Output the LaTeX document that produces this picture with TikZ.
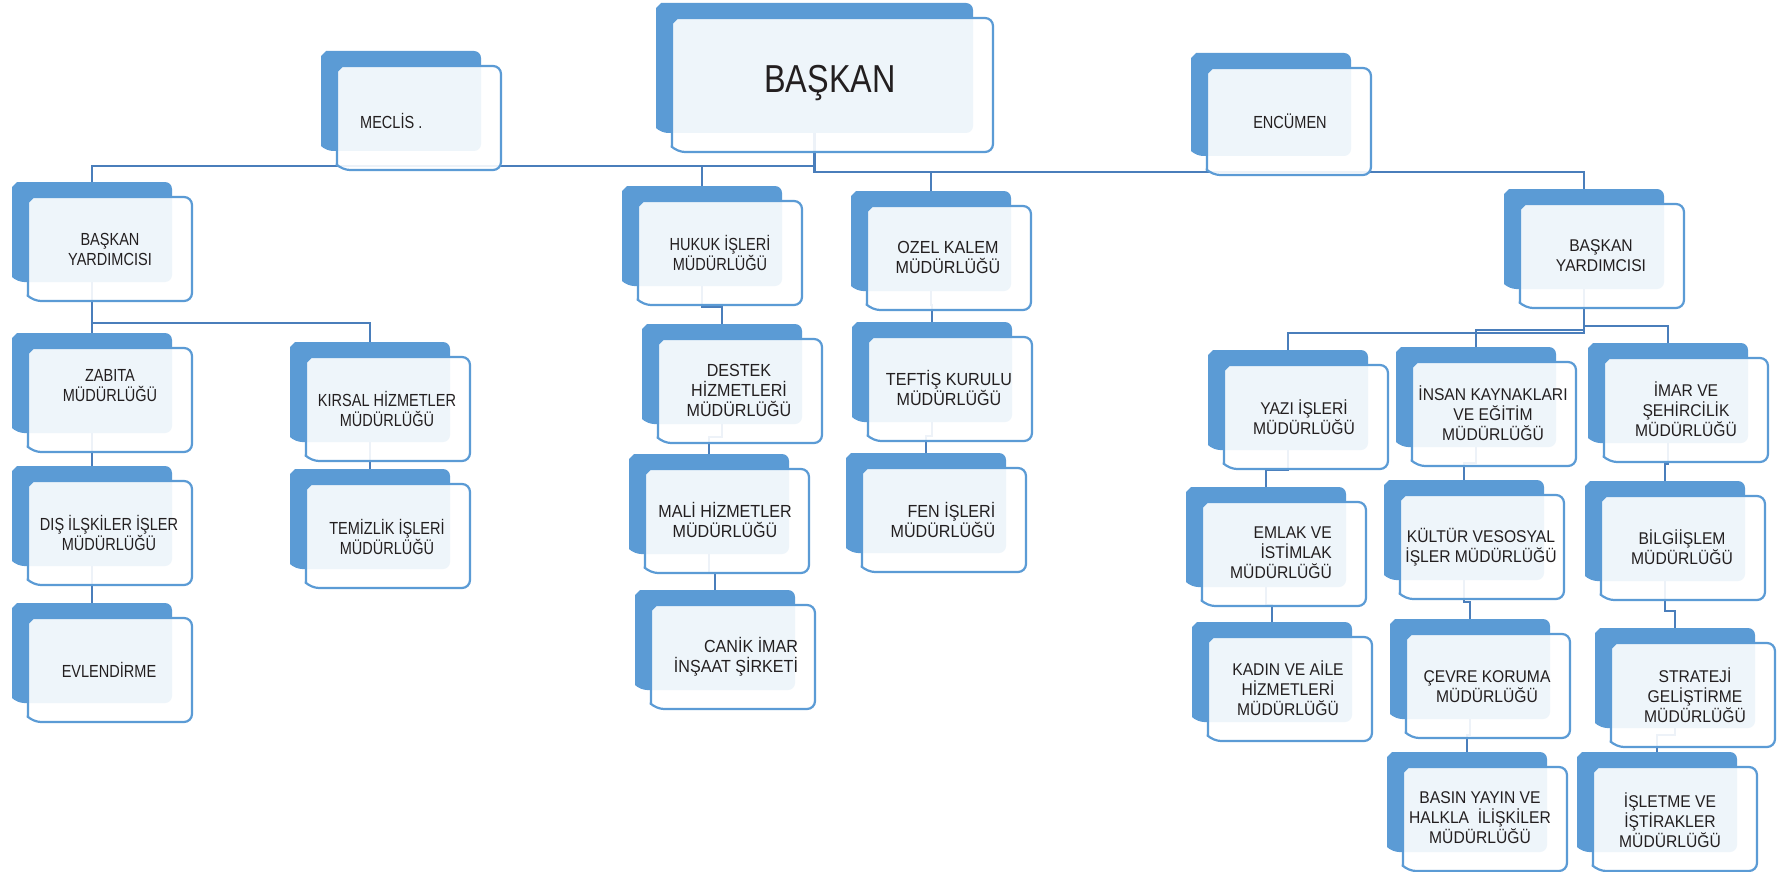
\documentclass[tikz,border=0pt]{standalone}
\usepackage{fontspec}
\setmainfont{Liberation Sans}[FakeStretch=0.83]
\newfontfamily\wfont{Liberation Sans}[FakeStretch=0.92]
\usetikzlibrary{calc}
\definecolor{backblue}{RGB}{91,155,213}
\definecolor{frontline}{RGB}{91,155,213}
\definecolor{connblue}{RGB}{74,126,187}
\definecolor{txt}{RGB}{35,31,32}
\pgfdeclarelayer{bgw}
\pgfdeclarelayer{bg}
\pgfsetlayers{bgw,bg,main}
\tikzset{
 boxframe/.style={draw=none, fill=none, anchor=north west, inner sep=0pt, outer sep=0pt},
 backfill/.style={fill=backblue, draw=none},
 frontfill/.style={fill=white, fill opacity=0.9, draw=frontline, draw opacity=1, line width=2.2pt, line join=round},
 lbl/.style={text=txt, align=center, font=\fontsize{17.5}{20}\selectfont, inner sep=0pt},
 mlbl/.style={lbl, font=\wfont\fontsize{17.5}{20}\selectfont},
 rlbl/.style={lbl, font=\wfont\fontsize{17}{20}\selectfont},
 conn/.style={draw=connblue, line width=2.4pt},
}
\newcommand\chamf[3]{%
  \path[#3] ($(#1.north west)+(5,0)$) [rounded corners=#2pt] -- (#1.north east) -- (#1.south east) -- ($(#1.south west)+(5,0)$) [sharp corners] -- ($(#1.south west)+(0,-5)$) -- ($(#1.north west)+(0,5)$) -- cycle;
}
\newcommand\orgunit[5]{%
  \node[boxframe, minimum width=#4pt, minimum height=#5pt] (#1B) at (#2,#3) {};
  \chamf{#1B}{7}{backfill}
  \node[boxframe, minimum width={#4pt+4pt}, minimum height={#5pt+4pt}] (#1F) at ($(#1B.north west)+(16,15)$) {};
  \chamf{#1F}{8}{frontfill}
}
\newcommand\orgconn[2]{%
  \draw[conn] (#1B.south) |- ($(#2B.north)+(0,-17)$) -- (#2B.north);
}
\begin{document}
\begin{tikzpicture}[x=1pt,y=-1pt]
\useasboundingbox (0,0) rectangle (1780,872);
\begin{pgfonlayer}{bgw}
\fill[white] (0,0) rectangle (1780,872);
\end{pgfonlayer}

% units
\orgunit{baskan}{656}{3}{317}{130}
\orgunit{meclis}{321}{51}{160}{100}
\orgunit{encumen}{1191}{53}{160}{103}
\orgunit{byl}{12}{182}{160}{100}
\orgunit{zabita}{12}{333}{160}{100}
\orgunit{dis}{12}{466}{160}{100}
\orgunit{evl}{12}{603}{160}{100}
\orgunit{kirsal}{290}{342}{160}{100}
\orgunit{temiz}{290}{469}{160}{100}
\orgunit{hukuk}{622}{186}{160}{100}
\orgunit{destek}{642}{324}{160}{100}
\orgunit{mali}{629}{454}{160}{100}
\orgunit{canik}{635}{590}{160}{100}
\orgunit{ozel}{851}{191}{160}{100}
\orgunit{teftis}{852}{322}{160}{100}
\orgunit{fen}{846}{453}{160}{100}
\orgunit{byr}{1504}{189}{160}{100}
\orgunit{yazi}{1208}{350}{160}{100}
\orgunit{insan}{1396}{347}{160}{100}
\orgunit{imar}{1588}{343}{160}{100}
\orgunit{emlak}{1186}{487}{160}{100}
\orgunit{kadin}{1192}{622}{160}{100}
\orgunit{kultur}{1384}{480}{160}{100}
\orgunit{cevre}{1390}{619}{160}{100}
\orgunit{basin}{1387}{752}{160}{100}
\orgunit{bilgi}{1585}{481}{160}{100}
\orgunit{strat}{1595}{628}{160}{100}
\orgunit{islet}{1577}{752}{160}{100}

% labels
\node[lbl, font=\fontsize{39}{44}\selectfont] (baskanT) at (830,83) {BAŞKAN};
\node[lbl, anchor=west] (meclisT) at (360,121) {MECLİS .};
\node[lbl] (encumenT) at (1290,121) {ENCÜMEN};
\node[lbl] (bylT) at (110,249) {BAŞKAN\\YARDIMCISI};
\node[lbl] (zabitaT) at (110,386) {ZABITA\\MÜDÜRLÜĞÜ};
\node[lbl] (disT) at (109,533) {DIŞ İLŞKİLER İŞLER\\MÜDÜRLÜĞÜ};
\node[lbl] (evlT) at (109,670) {EVLENDİRME};
\node[lbl] (kirsalT) at (387,409) {KIRSAL HİZMETLER\\MÜDÜRLÜĞÜ};
\node[lbl] (temizT) at (387,537) {TEMİZLİK İŞLERİ\\MÜDÜRLÜĞÜ};
\node[lbl] (hukukT) at (720,253) {HUKUK İŞLERİ\\MÜDÜRLÜĞÜ};
\node[mlbl] (destekT) at (739,390) {DESTEK\\HİZMETLERİ\\MÜDÜRLÜĞÜ};
\node[mlbl] (maliT) at (725,520) {MALİ HİZMETLER\\MÜDÜRLÜĞÜ};
\node[mlbl, align=right] (canikT) at (736,657) {CANİK İMAR\\İNŞAAT ŞİRKETİ};
\node[mlbl] (ozelT) at (948,257) {OZEL KALEM\\MÜDÜRLÜĞÜ};
\node[mlbl] (teftisT) at (949,388) {TEFTİŞ KURULU\\MÜDÜRLÜĞÜ};
\node[mlbl, align=right] (fenT) at (943,520) {FEN İŞLERİ\\MÜDÜRLÜĞÜ};
\node[rlbl] (byrT) at (1601,256) {BAŞKAN\\YARDIMCISI};
\node[rlbl] (yaziT) at (1304,417) {YAZI İŞLERİ\\MÜDÜRLÜĞÜ};
\node[rlbl] (insanT) at (1493,413) {İNSAN KAYNAKLARI\\VE EĞİTİM\\MÜDÜRLÜĞÜ};
\node[rlbl] (imarT) at (1686,409) {İMAR VE\\ŞEHİRCİLİK\\MÜDÜRLÜĞÜ};
\node[rlbl, align=right] (emlakT) at (1281,553) {EMLAK VE\\İSTİMLAK\\MÜDÜRLÜĞÜ};
\node[rlbl] (kadinT) at (1288,688) {KADIN VE AİLE\\HİZMETLERİ\\MÜDÜRLÜĞÜ};
\node[rlbl] (kulturT) at (1481,547) {KÜLTÜR VESOSYAL\\İŞLER MÜDÜRLÜĞÜ};
\node[rlbl] (cevreT) at (1487,687) {ÇEVRE KORUMA\\MÜDÜRLÜĞÜ};
\node[rlbl] (basinT) at (1480,818) {BASIN YAYIN VE\\HALKLA\ \ İLİŞKİLER\\MÜDÜRLÜĞÜ};
\node[rlbl] (bilgiT) at (1682,547) {BİLGİİŞLEM\\MÜDÜRLÜĞÜ};
\node[rlbl] (stratT) at (1695,695) {STRATEJİ\\GELİŞTİRME\\MÜDÜRLÜĞÜ};
\node[rlbl] (isletT) at (1670,820) {İŞLETME VE\\İŞTİRAKLER\\MÜDÜRLÜĞÜ};

% connectors
\begin{pgfonlayer}{bg}
\draw[conn] (baskanB.south) -- ++(0,33) -| (bylB.north);
\draw[conn] (baskanB.south) -- ++(0,33) -| (hukukB.north);
\draw[conn] (baskanB.south) -- ++(0,39) -| (ozelB.north);
\draw[conn] (baskanB.south) -- ++(0,39) -| (byrB.north);
\draw[conn] (bylB.south) -- (zabitaB.north);
\draw[conn] (bylB.south) -- ++(0,41) -| (kirsalB.north);
\draw[conn] (zabitaB.south) -- (disB.north);
\draw[conn] (disB.south) -- (evlB.north);
\draw[conn] (kirsalB.south) -- (temizB.north);
\orgconn{hukuk}{destek}
\orgconn{destek}{mali}
\orgconn{mali}{canik}
\orgconn{ozel}{teftis}
\orgconn{teftis}{fen}
\orgconn{byr}{yazi}
\orgconn{byr}{insan}
\orgconn{byr}{imar}
\orgconn{yazi}{emlak}
\orgconn{emlak}{kadin}
\orgconn{insan}{kultur}
\orgconn{kultur}{cevre}
\orgconn{cevre}{basin}
\orgconn{imar}{bilgi}
\orgconn{bilgi}{strat}
\orgconn{strat}{islet}
\end{pgfonlayer}
\end{tikzpicture}
\end{document}
